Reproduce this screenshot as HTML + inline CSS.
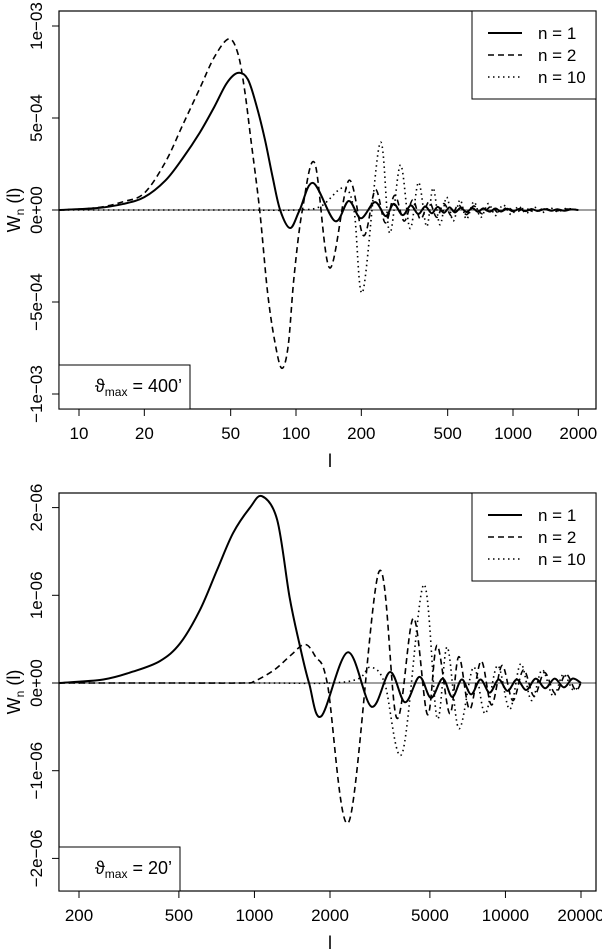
<!DOCTYPE html>
<html><head><meta charset="utf-8">
<style>
html,body{margin:0;padding:0;background:#fff;}
svg{display:block;font-family:"Liberation Sans",sans-serif;}
</style></head>
<body>
<svg id="chart" width="602" height="951" viewBox="0 0 602 951"></svg>
<script>
// ---------- Panel 1 data (theta_max = 400') ----------
const topXTicks = [10,20,50,100,200,500,1000,2000];
const topYTicks = [-1e-3,-5e-4,0,5e-4,1e-3];
const topYTickLabels = ["\u22121e\u221203","\u22125e\u221204","0e+00","5e\u221204","1e\u221203"];
const topN1L = [8,12,16,20,25,30,36,42,48,54,60,66,72,78,84.5,94,104,120,151,175,199,231,259,282,310,338,366,394,422,450,480,510,540,575,610,650,690,730,780,830,880,940,1000,1070,1140,1220,1300,1400,1500,1600,1720,1850,2000];
const topN1V = [0,0.1e-4,0.33e-4,0.7e-4,1.6e-4,2.8e-4,4.2e-4,5.6e-4,6.9e-4,7.45e-4,7.1e-4,5.6e-4,3.8e-4,1.8e-4,0,-0.98e-4,0,1.47e-4,-0.6e-4,0.49e-4,-0.45e-4,0.43e-4,-0.33e-4,0.33e-4,-0.28e-4,0.25e-4,-0.22e-4,0.2e-4,-0.18e-4,0.17e-4,-0.15e-4,0.14e-4,-0.13e-4,0.12e-4,-0.11e-4,0.1e-4,-0.1e-4,0.09e-4,-0.09e-4,0.08e-4,-0.08e-4,0.07e-4,-0.07e-4,0.06e-4,-0.06e-4,0.05e-4,-0.05e-4,0.05e-4,-0.04e-4,0.04e-4,-0.04e-4,0.03e-4,0];
const topN2L = [8,12,16,20,25,30,36,42,49,54,58,62,68,74,80,86,92,98,107,122,143,175,205,232,258,285,315,345,375,410,445,480,520,560,610,660,720,790,860,940,1030,1130,1250,1400,1550,1750,2000];
const topN2V = [0,0.12e-4,0.45e-4,0.92e-4,2.6e-4,4.6e-4,6.6e-4,8.3e-4,9.3e-4,8.5e-4,6.5e-4,3.8e-4,0,-4.5e-4,-7.2e-4,-8.6e-4,-7.4e-4,-3.6e-4,0,2.55e-4,-3.15e-4,1.6e-4,-1.4e-4,1.1e-4,-0.7e-4,0.8e-4,-0.6e-4,0.55e-4,-0.5e-4,0.45e-4,-0.4e-4,0.35e-4,-0.32e-4,0.28e-4,-0.25e-4,0.22e-4,-0.2e-4,0.18e-4,-0.16e-4,0.14e-4,-0.12e-4,0.1e-4,-0.09e-4,0.08e-4,-0.07e-4,0.05e-4,0];
const topN10L = [8,50,100,130,165,185,203,244,270,303,335,367,400,428,460,494,530,570,610,660,710,770,830,900,980,1060,1150,1250,1360,1480,1610,1750,2000];
const topN10V = [0,0,0,0.2e-4,1.2e-4,0,-4.45e-4,3.65e-4,-1.25e-4,2.45e-4,-1.0e-4,1.5e-4,-0.9e-4,1.2e-4,-0.8e-4,0.7e-4,-0.6e-4,0.55e-4,-0.5e-4,0.45e-4,-0.4e-4,0.35e-4,-0.3e-4,0.28e-4,-0.25e-4,0.2e-4,-0.18e-4,0.16e-4,-0.14e-4,0.12e-4,-0.1e-4,0.08e-4,0];

// ---------- Panel 2 data (theta_max = 20') ----------
const botXTicks = [200,500,1000,2000,5000,10000,20000];
const botYTicks = [-2e-6,-1e-6,0,1e-6,2e-6];
const botYTickLabels = ["\u22122e\u221206","\u22121e\u221206","0e+00","1e\u221206","2e\u221206"];
const botN1L = [166,250,328,420,505,606,710,822,960,1072,1232,1380,1510,1650,1845,2354,2925,3470,3980,4540,5050,5620,6140,6700,7300,7950,8650,9400,10200,11100,12100,13200,14400,15700,17100,18500,20000];
const botN1V = [0,0.04e-6,0.13e-6,0.25e-6,0.45e-6,0.83e-6,1.29e-6,1.71e-6,2.0e-6,2.13e-6,1.86e-6,0.98e-6,0.45e-6,0,-0.38e-6,0.35e-6,-0.27e-6,0.125e-6,-0.22e-6,0.07e-6,-0.17e-6,0.05e-6,-0.16e-6,0.04e-6,-0.13e-6,0.04e-6,-0.11e-6,0.04e-6,-0.09e-6,0.04e-6,-0.08e-6,0.05e-6,-0.06e-6,0.05e-6,-0.05e-6,0.05e-6,0];
const botN2L = [166,500,900,1000,1200,1400,1590,1750,1950,2380,3135,3690,4300,4890,5340,6000,6520,7200,8000,8800,9700,10700,11800,13000,14300,15800,17400,19000,20000];
const botN2V = [0,0,0,0.02e-6,0.15e-6,0.32e-6,0.44e-6,0.3e-6,0,-1.58e-6,1.27e-6,-0.4e-6,0.74e-6,-0.36e-6,0.43e-6,-0.35e-6,0.3e-6,-0.3e-6,0.25e-6,-0.25e-6,0.2e-6,-0.2e-6,0.15e-6,-0.15e-6,0.12e-6,-0.12e-6,0.1e-6,-0.08e-6,0];
const botN10L = [166,1000,2000,2600,2900,3300,3880,4720,5340,5860,6520,7460,8300,9300,10400,11500,12700,14000,15500,17000,18600,20000];
const botN10V = [0,0,0,0.05e-6,0.18e-6,0,-0.8e-6,1.12e-6,-0.4e-6,0.41e-6,-0.52e-6,0.18e-6,-0.35e-6,0.2e-6,-0.3e-6,0.22e-6,-0.2e-6,0.15e-6,-0.15e-6,0.1e-6,-0.08e-6,0];

const NS = "http://www.w3.org/2000/svg";
const svg = document.getElementById('chart');
function mk(tag, attrs, parent){
  const e = document.createElementNS(NS, tag);
  for (const k in attrs) e.setAttribute(k, attrs[k]);
  (parent||svg).appendChild(e);
  return e;
}
function curvePath(pts){
  let d = "M" + pts[0][0].toFixed(2) + "," + pts[0][1].toFixed(2);
  for (let i=0;i<pts.length-1;i++){
    const p0 = pts[Math.max(0,i-1)], p1 = pts[i], p2 = pts[i+1], p3 = pts[Math.min(pts.length-1,i+2)];
    const c1x = p1[0] + (p2[0]-p0[0])/6, c1y = p1[1] + (p2[1]-p0[1])/6;
    const c2x = p2[0] - (p3[0]-p1[0])/6, c2y = p2[1] - (p3[1]-p1[1])/6;
    d += " C" + c1x.toFixed(2)+","+c1y.toFixed(2)+" "+c2x.toFixed(2)+","+c2y.toFixed(2)+" "+p2[0].toFixed(2)+","+p2[1].toFixed(2);
  }
  return d;
}

function drawPanel(cfg){
  const g = mk('g', {});
  
  
  const xs = l => cfg.x0 + cfg.dec * Math.log10(l / cfg.l0);
  const ys = v => cfg.yZero - v * cfg.yScale;
  const box = mk('rect', {x:cfg.left, y:cfg.top, width:cfg.right-cfg.left, height:cfg.bottom-cfg.top, fill:'none', stroke:'#000', 'stroke-width':1.2}, g);
  
  
  const zl = mk('line', {x1:cfg.left, x2:cfg.right, y1:ys(0), y2:ys(0), stroke:'#000', 'stroke-width':0.8}, g);
  
  
  cfg.xticks.forEach(t => {
    const x = xs(t);
    mk('line', {x1:x, x2:x, y1:cfg.bottom, y2:cfg.bottom+7, stroke:'#000', 'stroke-width':1}, g);
    const tx = mk('text', {x:x, y:cfg.bottom+30, 'font-size':17, 'text-anchor':'middle'}, g);
    tx.textContent = t;
    
    
  });
  cfg.yticks.forEach((t,i) => {
    const y = ys(t);
    mk('line', {x1:cfg.left-7, x2:cfg.left, y1:y, y2:y, stroke:'#000', 'stroke-width':1}, g);
    const tx = mk('text', {x:0, y:0, 'font-size':17, 'text-anchor':'middle', transform:'translate('+(cfg.left-17)+','+y+') rotate(-90)'}, g);
    tx.textContent = cfg.ylabels[i];
    
    
  });
  const xt = mk('text', {x:330, y:cfg.bottom+58, 'font-size':18, 'text-anchor':'middle'}, g);
  xt.textContent = 'l';
  
  
  const yt = mk('text', {x:0, y:0, 'font-size':18, 'text-anchor':'middle', transform:'translate(20,'+((cfg.top+cfg.bottom)/2)+') rotate(-90)'}, g);
  yt.innerHTML = 'W<tspan font-size="12" dy="4">n</tspan><tspan dy="-4"> (l)</tspan>';
  
  
  const styles = [
    {w:2, dash:null, name:'series-n1'},
    {w:1.6, dash:'6,4', name:'series-n2'},
    {w:1.6, dash:'1.5,3.5', name:'series-n10'}
  ];
  const clip = 'clip-' + cfg.name;
  const cp = mk('clipPath', {id:clip}, g);
  mk('rect', {x:cfg.left, y:cfg.top, width:cfg.right-cfg.left, height:cfg.bottom-cfg.top}, cp);
  cfg.series.forEach((s,i) => {
    const pts = s[0].map((l,j) => [xs(l), ys(s[1][j])]);
    const attrs = {d:curvePath(pts), fill:'none', stroke:'#000', 'stroke-width':styles[i].w, 'clip-path':'url(#'+clip+')'};
    if (styles[i].dash) attrs['stroke-dasharray'] = styles[i].dash;
    const p = mk('path', attrs, g);
    
    
  });
  const lg = mk('g', {}, g);
  
  
  mk('rect', {x:472, y:cfg.top, width:cfg.right-472, height:88, fill:'#fff', stroke:'#000', 'stroke-width':1}, lg);
  const labels = ['n = 1','n = 2','n = 10'];
  labels.forEach((lab,i) => {
    const y = cfg.top + 22 + i*22;
    const a = {x1:488, x2:522, y1:y, y2:y, stroke:'#000', 'stroke-width':styles[i].w};
    if (styles[i].dash) a['stroke-dasharray'] = styles[i].dash;
    mk('line', a, lg);
    const t = mk('text', {x:538, y:y+6, 'font-size':17}, lg);
    t.textContent = lab;
    
    
  });
  const an = mk('g', {}, g);
  
  
  mk('rect', {x:cfg.left, y:cfg.bottom-44, width:cfg.annW, height:44, fill:'#fff', stroke:'#000', 'stroke-width':1}, an);
  const at = mk('text', {x:cfg.left+cfg.annW-8, y:cfg.bottom-17, 'font-size':18, 'text-anchor':'end'}, an);
  at.innerHTML = '\u03D1<tspan font-size="12" dy="4">max</tspan><tspan dy="-4"> = ' + cfg.ann + '\u2019</tspan>';
}

drawPanel({name:'panel-theta-400', left:59, right:596, top:11, bottom:409,
  x0:79, l0:10, dec:217, yZero:210, yScale:92/5e-4,
  xticks:topXTicks, yticks:topYTicks, ylabels:topYTickLabels,
  series:[[topN1L,topN1V],[topN2L,topN2V],[topN10L,topN10V]], ann:'400', annW:131});
drawPanel({name:'panel-theta-20', left:59, right:596, top:493, bottom:891,
  x0:79, l0:200, dec:251, yZero:683, yScale:87.7/1e-6,
  xticks:botXTicks, yticks:botYTicks, ylabels:botYTickLabels,
  series:[[botN1L,botN1V],[botN2L,botN2V],[botN10L,botN10V]], ann:'20', annW:121});
</script>
</body></html>
